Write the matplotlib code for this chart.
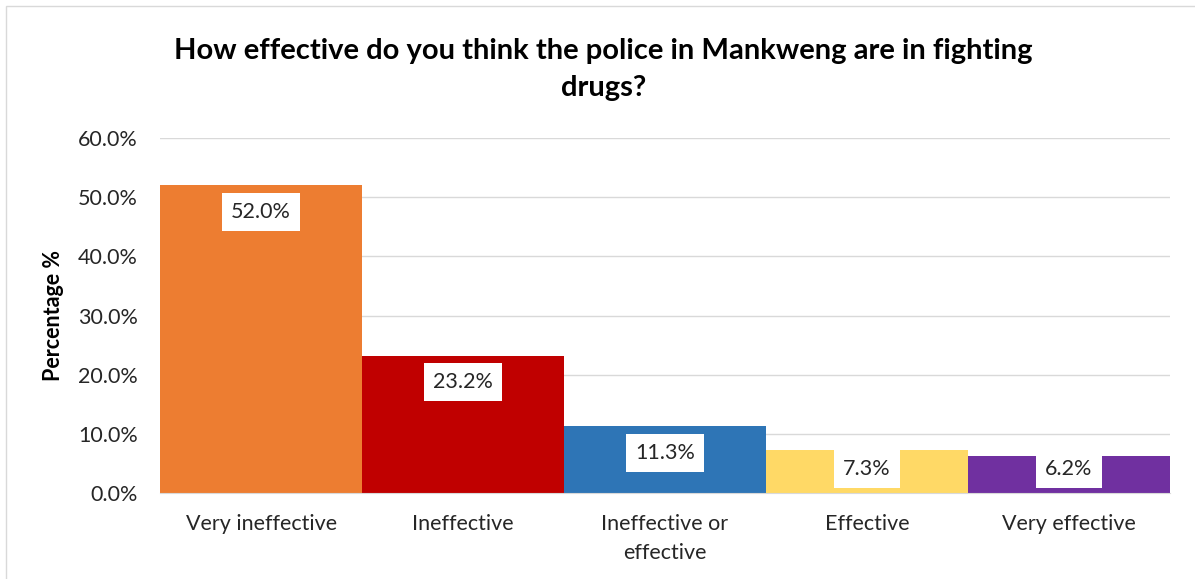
import matplotlib.pyplot as plt
from matplotlib.patches import Rectangle
from matplotlib.ticker import FuncFormatter

categories = ["Very ineffective", "Ineffective", "Ineffective or\neffective",
              "Effective", "Very effective"]
values = [52.0, 23.2, 11.3, 7.3, 6.2]
colors = ["#ED7D31", "#C00000", "#2E75B6", "#FFD966", "#7030A0"]
yticks = [0, 10, 20, 30, 40, 50, 60]

plt.rcParams['font.family'] = ['Lato', 'DejaVu Sans']

fig = plt.figure(figsize=(11.95, 5.79), dpi=100)
ax = fig.add_axes([0.134, 0.1485, 0.845, 0.613])

x = range(len(categories))
ax.bar(x, values, width=1.0, color=colors, zorder=2)

# value labels sit inside the top of each bar, on a white box
for i, v in enumerate(values):
    y = max(v - 4.5, 4.1)
    ax.text(i, y, f"{v:.1f}%", ha='center', va='center', fontsize=15.5,
            color='#262626', zorder=3,
            bbox=dict(facecolor='white', edgecolor='none', pad=6.5))

ax.set_xlim(-0.5, len(categories) - 0.5)
ax.set_ylim(0, 60)
ax.set_yticks(yticks)
ax.yaxis.set_major_formatter(FuncFormatter(lambda v, _: f"{v:.1f}%"))
ax.set_xticks(list(x))
ax.set_xticklabels(categories, linespacing=1.6)
ax.tick_params(axis='both', length=0, labelsize=15.5, colors='#262626')
ax.tick_params(axis='x', pad=15)
ax.tick_params(axis='y', pad=16)

ax.grid(axis='y', color='#D9D9D9', linewidth=1, zorder=0)
for side in ['top', 'right', 'left']:
    ax.spines[side].set_visible(False)
ax.spines['bottom'].set_color('#D9D9D9')

ax.set_ylabel("Percentage %", fontsize=15.5, fontweight='bold', labelpad=10)

fig.text(0.505, 0.88, "How effective do you think the police in Mankweng are in fighting\ndrugs?",
         ha='center', va='center', fontsize=21, fontweight='bold',
         linespacing=1.55, color='black')

# thin frame around the whole chart area
fig.patches.append(Rectangle((0.005, -0.01), 1.0, 1.0, transform=fig.transFigure,
                             fill=False, edgecolor='#D9D9D9', linewidth=1))

fig.savefig("out.png", dpi=100)
